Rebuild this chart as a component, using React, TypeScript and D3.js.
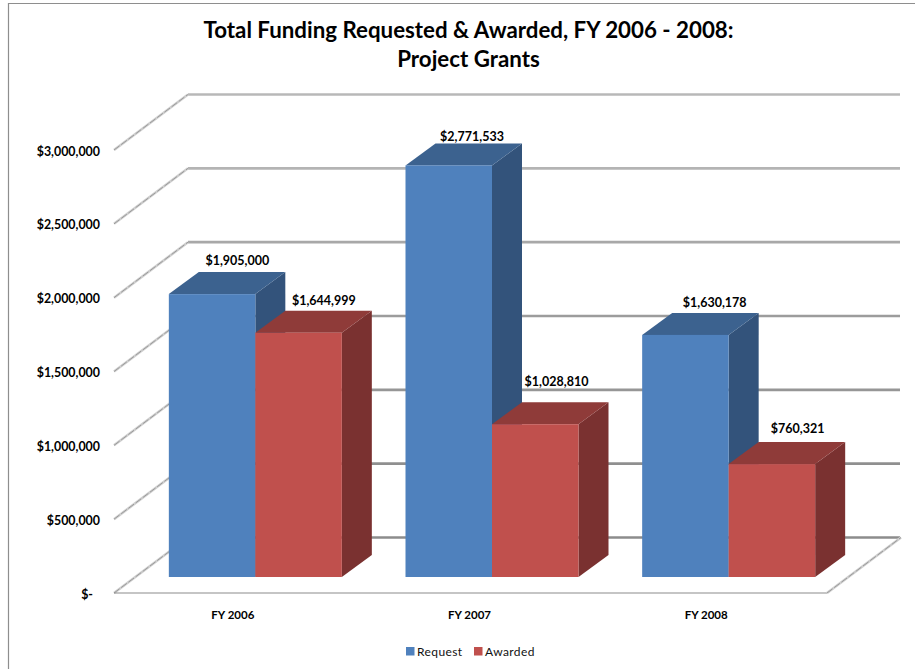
import React from "react";
import * as d3 from "d3";

const categories = ["FY 2006", "FY 2007", "FY 2008"];
const seriesNames = ["Request", "Awarded"];
const requestValues = [1905000, 2771533, 1630178];
const awardedValues = [1644999, 1028810, 760321];
const valueLabels = [
  ["$1,905,000", "$1,644,999"],
  ["$2,771,533", "$1,028,810"],
  ["$1,630,178", "$760,321"],
];
const ticks = [0, 500000, 1000000, 1500000, 2000000, 2500000, 3000000];
const tickLabels = ["$-", "$500,000", "$1,000,000", "$1,500,000", "$2,000,000", "$2,500,000", "$3,000,000"];
const titleLines = ["Total Funding Requested & Awarded, FY 2006 - 2008:", "Project Grants"];
const gridColors = ["#8c8c8c", "#8f8f8f", "#969696", "#9c9c9c", "#a8a8a8", "#b4b4b4", "#b8b8b8"];
// hand placement of the data labels, relative to the top of each bar's back edge
const labelNudges = [
  [[-0.5, -7], [-0.5, -6]],
  [[-2.5, -2], [-4.5, -16]],
  [[3.5, -6], [0, -9]],
];

const FONT = "Lato, 'Open Sans', sans-serif";
const front = { x0: 114, x1: 827 };
const wallDx = 74;
const wallDy = -55.5;
const barDx = 30;
const barDy = -22;

const yAxis = d3.scaleLinear().domain([0, 3000000]).range([593, 150]);
const yBar = d3.scaleLinear().domain([0, 3000000]).range([577, 131.5]);
const xGroup = d3.scaleBand<string>().domain(categories).range([137, 847]);
const barW = 86.5;

const faces = [
  { front: "#4f81bd", top: "#3c628f", side: "#33537b" },
  { front: "#c0504d", top: "#8f3b39", side: "#7a3130" },
];

function Bar({ x, value, s }: { x: number; value: number; s: number }) {
  const y = yBar(value);
  const b = yBar(0);
  const c = faces[s];
  const pts = (a: [number, number][]) => a.map((p) => p.join(",")).join(" ");
  return (
    <g>
      <polygon points={pts([[x + barW, y], [x + barW + barDx, y + barDy], [x + barW + barDx, b + barDy], [x + barW, b]])} fill={c.side} />
      <polygon points={pts([[x, y], [x + barDx, y + barDy], [x + barW + barDx, y + barDy], [x + barW, y]])} fill={c.top} />
      <rect x={x} y={y} width={barW} height={b - y} fill={c.front} />
    </g>
  );
}

function SideLine({ x, y }: { x: number; y: number }) {
  const d = d3.line()([[x, y], [x + wallDx, y + wallDy]]) ?? "";
  return (
    <g>
      <path d={d} stroke="#cfcfcf" strokeWidth={2.6} fill="none" />
      <path d={d} stroke="#9a9a9a" strokeWidth={1} strokeDasharray="7 2" fill="none" />
    </g>
  );
}

export default function App() {
  const line = d3.line();
  return (
    <svg width={915} height={669} style={{ position: "absolute", left: 0, top: 0, background: "#fff", fontFamily: FONT }}>
      <path d="M8.5,669 V3.5 H915" fill="none" stroke="#8e8e8e" strokeWidth={1.2} />
      {titleLines.map((t, i) => (
        <text key={t} x={468.5} y={37.5 + i * 29} textAnchor="middle" fontSize={22.3} fontWeight={700} fill="#000">{t}</text>
      ))}

      {ticks.map((t, i) => {
        const y = yAxis(t);
        return (
          <g key={t}>
            <path d={line([[front.x0 + wallDx, y + wallDy], [900, y + wallDy]]) ?? ""} stroke={gridColors[i]} strokeWidth={2.6} fill="none" />
            <SideLine x={front.x0} y={y} />
            <text x={t === 0 ? 93 : 100} y={y + 5.5} textAnchor="end" fontSize={12.4} fontWeight={700} fill="#000">{tickLabels[i]}</text>
          </g>
        );
      })}
      <path d={line([[front.x0, 593], [front.x1, 593]]) ?? ""} stroke="#8c8c8c" strokeWidth={1.2} fill="none" />
      <SideLine x={front.x1} y={593} />

      {categories.map((c, i) => {
        const cx = xGroup(c)! + xGroup.bandwidth() / 2;
        return (
          <g key={c}>
            <Bar x={cx - barW} value={requestValues[i]} s={0} />
            <Bar x={cx} value={awardedValues[i]} s={1} />
            <text x={cx - barW + 69 + labelNudges[i][0][0]} y={yBar(requestValues[i]) + barDy + labelNudges[i][0][1]} textAnchor="middle" fontSize={12.5} fontWeight={700} fill="#000">{valueLabels[i][0]}</text>
            <text x={cx + 69 + labelNudges[i][1][0]} y={yBar(awardedValues[i]) + barDy + labelNudges[i][1][1]} textAnchor="middle" fontSize={12.5} fontWeight={700} fill="#000">{valueLabels[i][1]}</text>
            <text x={cx - 22.5} y={619} textAnchor="middle" fontSize={11.5} fontWeight={700} fill="#000">{c}</text>
          </g>
        );
      })}

      {seriesNames.map((n, i) => {
        const x = [406, 474][i];
        return (
          <g key={n}>
            <rect x={x} y={647} width={8.5} height={8.5} fill={faces[i].front} />
            <text x={x + 11} y={656} fontSize={12} letterSpacing={0.4} fill="#111">{n}</text>
          </g>
        );
      })}
    </svg>
  );
}
